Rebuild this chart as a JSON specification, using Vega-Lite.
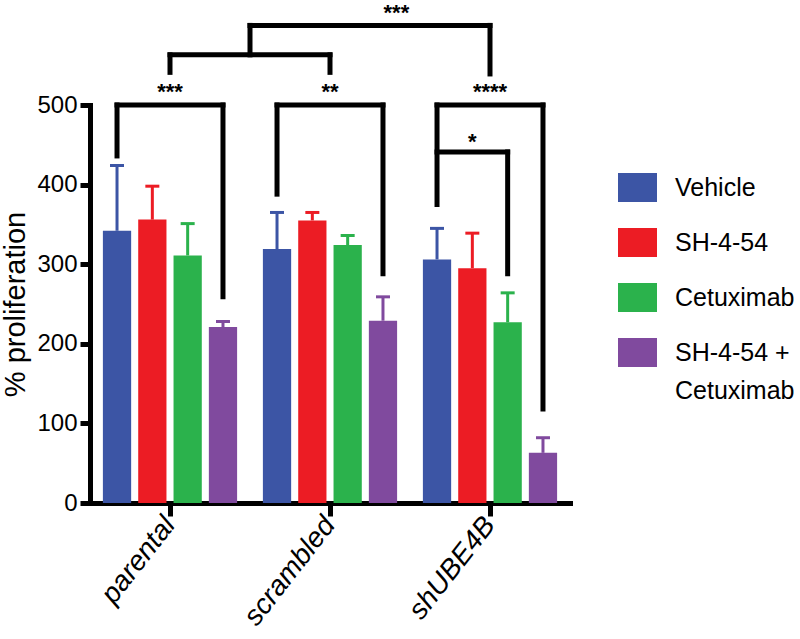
{
  "$schema": "https://vega.github.io/schema/vega-lite/v6.json",
  "width": 480,
  "height": 398,
  "padding": {"top": 2, "left": 1, "right": 0, "bottom": 0},
  "background": "white",
  "config": {
    "font": "Liberation Sans",
    "view": {"stroke": null},
    "style": {"guide-label": {"lineHeight": 38}},
    "axis": {"grid": false, "domainColor": "black", "tickColor": "black", "labelColor": "black", "titleColor": "black", "domainWidth": 5, "tickWidth": 5, "domainCap": "square"}
  },
  "datasets": {
    "bars": [
      {"group": "parental", "treatment": "Vehicle", "value": 342, "upper": 424},
      {"group": "parental", "treatment": "SH-4-54", "value": 356, "upper": 398},
      {"group": "parental", "treatment": "Cetuximab", "value": 311, "upper": 351},
      {"group": "parental", "treatment": "SH-4-54 + Cetuximab", "value": 221, "upper": 228},
      {"group": "scrambled", "treatment": "Vehicle", "value": 319, "upper": 365},
      {"group": "scrambled", "treatment": "SH-4-54", "value": 355, "upper": 365},
      {"group": "scrambled", "treatment": "Cetuximab", "value": 324, "upper": 336},
      {"group": "scrambled", "treatment": "SH-4-54 + Cetuximab", "value": 229, "upper": 259},
      {"group": "shUBE4B", "treatment": "Vehicle", "value": 306, "upper": 345},
      {"group": "shUBE4B", "treatment": "SH-4-54", "value": 295, "upper": 339},
      {"group": "shUBE4B", "treatment": "Cetuximab", "value": 227, "upper": 264},
      {"group": "shUBE4B", "treatment": "SH-4-54 + Cetuximab", "value": 63, "upper": 82}
    ],
    "legs": [
      {"group": "parental", "treatment": "Vehicle", "from": 436, "to": 500},
      {"group": "parental", "treatment": "SH-4-54 + Cetuximab", "from": 259, "to": 500},
      {"group": "scrambled", "treatment": "Vehicle", "from": 388, "to": 500},
      {"group": "scrambled", "treatment": "SH-4-54 + Cetuximab", "from": 288, "to": 500},
      {"group": "shUBE4B", "treatment": "Vehicle", "from": 375, "to": 500},
      {"group": "shUBE4B", "treatment": "SH-4-54 + Cetuximab", "from": 118, "to": 500},
      {"group": "shUBE4B", "treatment": "Cetuximab", "from": 288, "to": 441}
    ],
    "spanAll": [
      {"group": "parental", "level": 500},
      {"group": "scrambled", "level": 500},
      {"group": "shUBE4B", "level": 500}
    ],
    "spanShort": [
      {"group": "shUBE4B", "level": 441}
    ],
    "centerLegs": [
      {"group": "parental", "from": 541, "to": 563},
      {"group": "scrambled", "from": 541, "to": 563},
      {"group": "shUBE4B", "from": 539, "to": 600}
    ],
    "midSpan": [
      {"group": "parental", "group2": "scrambled", "level": 563}
    ],
    "topLeg": [
      {"group": "parental", "from": 563, "to": 600}
    ],
    "topSpan": [
      {"group": "parental", "group2": "shUBE4B", "level": 600}
    ],
    "stars": [
      {"group": "parental", "level": 516, "label": "***"},
      {"group": "scrambled", "level": 516, "label": "**"},
      {"group": "shUBE4B", "level": 516, "label": "****"}
    ],
    "starSmall": [
      {"group": "shUBE4B", "treatment": "SH-4-54", "level": 454, "label": "*"}
    ],
    "starTop": [
      {"group": "scrambled", "level": 615.5, "label": "***"}
    ]
  },
  "layer": [
    {
      "data": {"name": "bars"},
      "mark": {"type": "bar", "opacity": 1},
      "encoding": {
        "x": {"field": "group", "type": "nominal", "scale": {"paddingInner": 0, "paddingOuter": 0},
          "axis": {"title": null, "labelAngle": -52, "labelAlign": "right", "labelBaseline": "middle", "labelFontSize": 28, "labelFontStyle": "italic", "tickSize": 13, "labelPadding": 4}},
        "xOffset": {"field": "treatment", "type": "nominal", "scale": {"domain": ["Vehicle", "SH-4-54", "Cetuximab", "SH-4-54 + Cetuximab"], "paddingInner": 0.2, "paddingOuter": 0.365}},
        "y": {"field": "value", "type": "quantitative", "scale": {"domain": [0, 500], "nice": false},
          "axis": {"title": "% proliferation", "values": [0, 100, 200, 300, 400, 500], "labelFontSize": 24, "tickSize": 10, "labelPadding": 3, "titleFontSize": 29, "titleFontWeight": "normal", "titlePadding": 6}},
        "color": {"field": "treatment", "type": "nominal",
          "scale": {"domain": ["Vehicle", "SH-4-54", "Cetuximab", "SH-4-54 + Cetuximab"], "range": ["#3C55A5", "#EC1C24", "#2BB24C", "#804A9E"]},
          "legend": {"title": null, "orient": "none", "legendX": 528, "legendY": 63, "padding": 0,
            "symbolType": "M-1,-0.74H1V0.74H-1Z", "symbolSize": 1521, "symbolStrokeWidth": 0, "symbolOpacity": 1,
            "labelFontSize": 25, "labelOffset": 18, "rowPadding": 21, "labelLimit": 300,
            "labelExpr": "datum.label == 'SH-4-54 + Cetuximab' ? ['SH-4-54 +', 'Cetuximab'] : datum.label"}}
      }
    },
    {
      "data": {"name": "bars"},
      "mark": {"type": "rule", "strokeWidth": 3, "opacity": 1},
      "encoding": {
        "x": {"field": "group", "type": "nominal"},
        "xOffset": {"field": "treatment", "type": "nominal"},
        "y": {"field": "value", "type": "quantitative"},
        "y2": {"field": "upper"},
        "color": {"field": "treatment", "type": "nominal"}
      }
    },
    {
      "data": {"name": "bars"},
      "mark": {"type": "tick", "thickness": 3, "size": 14, "opacity": 1},
      "encoding": {
        "x": {"field": "group", "type": "nominal"},
        "xOffset": {"field": "treatment", "type": "nominal"},
        "y": {"field": "upper", "type": "quantitative"},
        "color": {"field": "treatment", "type": "nominal"}
      }
    },
    {
      "data": {"name": "legs"},
      "mark": {"type": "rule", "strokeWidth": 5, "color": "black", "strokeCap": "square"},
      "encoding": {
        "x": {"field": "group", "type": "nominal"},
        "xOffset": {"field": "treatment", "type": "nominal"},
        "y": {"field": "from", "type": "quantitative"},
        "y2": {"field": "to"}
      }
    },
    {
      "data": {"name": "spanAll"},
      "mark": {"type": "rule", "strokeWidth": 5, "color": "black", "strokeCap": "square"},
      "encoding": {
        "x": {"field": "group", "type": "nominal", "bandPosition": 0.16887},
        "x2": {"field": "group", "bandPosition": 0.83113},
        "y": {"field": "level", "type": "quantitative"}
      }
    },
    {
      "data": {"name": "spanShort"},
      "mark": {"type": "rule", "strokeWidth": 5, "color": "black", "strokeCap": "square"},
      "encoding": {
        "x": {"field": "group", "type": "nominal", "bandPosition": 0.16887},
        "x2": {"field": "group", "bandPosition": 0.61038},
        "y": {"field": "level", "type": "quantitative"}
      }
    },
    {
      "data": {"name": "centerLegs"},
      "mark": {"type": "rule", "strokeWidth": 5, "color": "black", "strokeCap": "square"},
      "encoding": {
        "x": {"field": "group", "type": "nominal", "bandPosition": 0.5},
        "y": {"field": "from", "type": "quantitative"},
        "y2": {"field": "to"}
      }
    },
    {
      "data": {"name": "midSpan"},
      "mark": {"type": "rule", "strokeWidth": 5, "color": "black", "strokeCap": "square"},
      "encoding": {
        "x": {"field": "group", "type": "nominal", "bandPosition": 0.5},
        "x2": {"field": "group2", "bandPosition": 0.5},
        "y": {"field": "level", "type": "quantitative"}
      }
    },
    {
      "data": {"name": "topLeg"},
      "mark": {"type": "rule", "strokeWidth": 5, "color": "black", "strokeCap": "square"},
      "encoding": {
        "x": {"field": "group", "type": "nominal", "bandPosition": 1},
        "y": {"field": "from", "type": "quantitative"},
        "y2": {"field": "to"}
      }
    },
    {
      "data": {"name": "topSpan"},
      "mark": {"type": "rule", "strokeWidth": 5, "color": "black", "strokeCap": "square"},
      "encoding": {
        "x": {"field": "group", "type": "nominal", "bandPosition": 1},
        "x2": {"field": "group2", "bandPosition": 0.5},
        "y": {"field": "level", "type": "quantitative"}
      }
    },
    {
      "data": {"name": "stars"},
      "mark": {"type": "text", "fontSize": 22, "fontWeight": "bold", "baseline": "middle", "align": "center", "color": "black"},
      "encoding": {
        "x": {"field": "group", "type": "nominal", "bandPosition": 0.5},
        "y": {"field": "level", "type": "quantitative"},
        "text": {"field": "label"}
      }
    },
    {
      "data": {"name": "starSmall"},
      "mark": {"type": "text", "fontSize": 22, "fontWeight": "bold", "baseline": "middle", "align": "center", "color": "black"},
      "encoding": {
        "x": {"field": "group", "type": "nominal"},
        "xOffset": {"field": "treatment", "type": "nominal"},
        "y": {"field": "level", "type": "quantitative"},
        "text": {"field": "label"}
      }
    },
    {
      "data": {"name": "starTop"},
      "mark": {"type": "text", "fontSize": 22, "fontWeight": "bold", "baseline": "middle", "align": "center", "color": "black"},
      "encoding": {
        "x": {"field": "group", "type": "nominal", "bandPosition": 0.915},
        "y": {"field": "level", "type": "quantitative"},
        "text": {"field": "label"}
      }
    }
  ]
}
